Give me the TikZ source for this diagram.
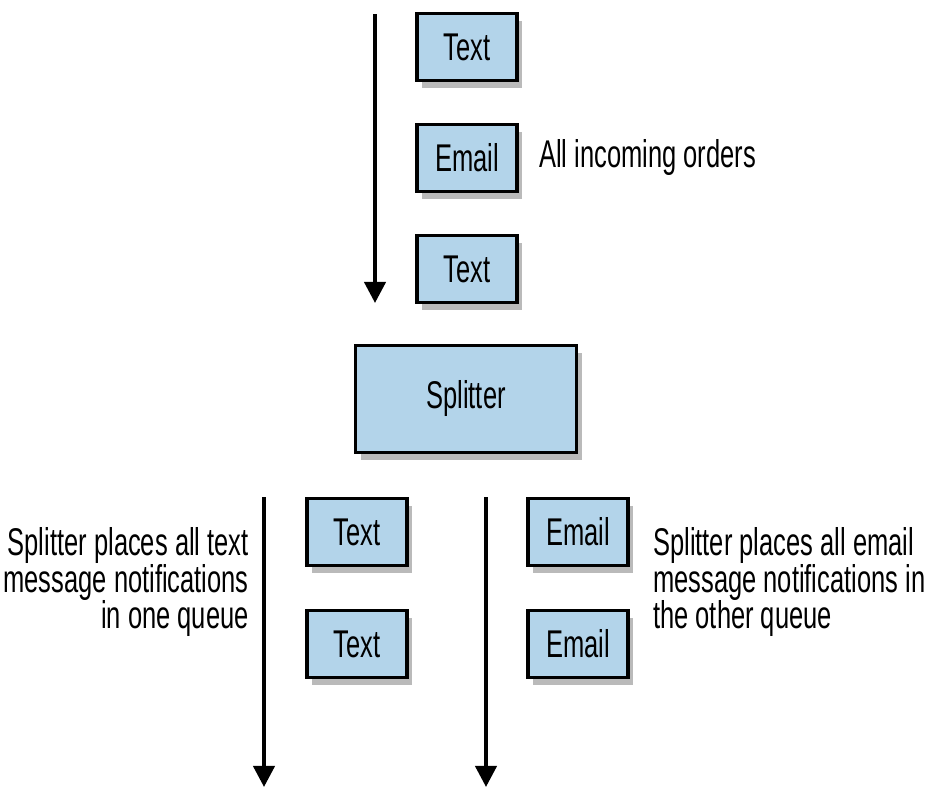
\documentclass[tikz,border=0pt]{standalone}
\usepackage{fontspec}
\setmainfont{Liberation Sans}[FakeStretch=0.66]
\usetikzlibrary{arrows.meta, positioning, shadows}
\definecolor{msgblue}{RGB}{179,212,234}
\tikzset{>={Triangle[width=12pt,length=12pt]}}
\tikzset{
	msg/.style={draw, line width=2.2pt, fill=msgblue, minimum width=2cm, minimum height=1.34cm,
		drop shadow={shadow xshift=3pt, shadow yshift=-4pt, fill=black!60, opacity=0.45}},
	flow/.style={->, line width=2.3pt}
}

\begin{document}
\begin{tikzpicture}[x=0.02cm, y=-0.02cm, font=\fontsize{22}{21}\selectfont]
	\useasboundingbox (0,0) rectangle (930,788);
	% incoming orders
	\coordinate (in start) at (375,14);
	\coordinate (in end) at (375,303);
	\draw [flow] (in start) -- (in end);
	\node [msg] (in1) at (467,47) {Text};
	\node [msg] (in2) at (467,158) {Email};
	\node [msg] (in3) at (467,269) {Text};
	\node [right=8pt of in2] (allnote) {All incoming orders};
	% splitter
	\node [msg, minimum width=4.42cm, minimum height=2.14cm] (split) at (466,399) {Splitter};
	% text queue
	\coordinate (txt start) at (264,497);
	\coordinate (txt end) at (264,787);
	\draw [flow] (txt start) -- (txt end);
	\node [msg] (txt1) at (357,532) {Text};
	\node [msg] (txt2) at (357,644) {Text};
	\node [left, align=right] (txtnote) at (255,582) {Splitter places all text\\message notifications\\in one queue};
	% email queue
	\coordinate (mail start) at (486,497);
	\coordinate (mail end) at (486,787);
	\draw [flow] (mail start) -- (mail end);
	\node [msg] (mail1) at (578,532) {Email};
	\node [msg] (mail2) at (578,644) {Email};
	\node [right, align=left] (mailnote) at (647,582) {Splitter places all email\\message notifications in\\the other queue};
\end{tikzpicture}
\end{document}
